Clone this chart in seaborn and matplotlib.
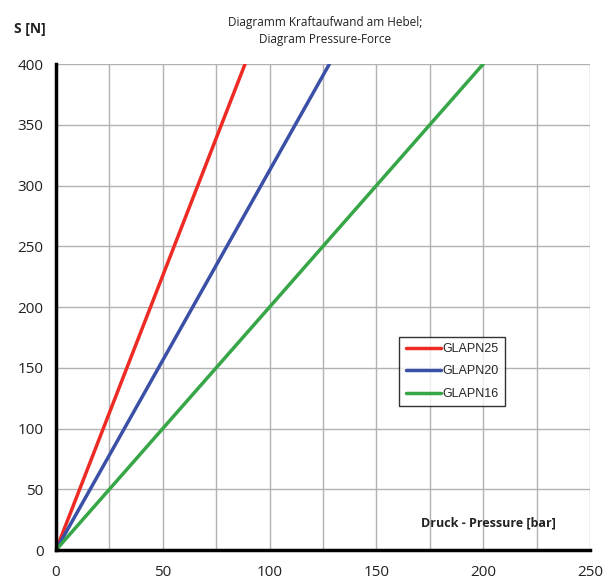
import numpy as np
import pandas as pd
import matplotlib
matplotlib.use("Agg")
import matplotlib.pyplot as plt
import seaborn as sns

# Data
series = ["GLAPN25", "GLAPN20", "GLAPN16"]
pressure_25 = [0, 88.5]
force_25 = [0, 400]
pressure_20 = [0, 128]
force_20 = [0, 400]
pressure_16 = [0, 200]
force_16 = [0, 400]
colors = ["#ee2a24", "#3a4fa6", "#36a647"]
x_ticks = [0, 50, 100, 150, 200, 250]
y_ticks = [0, 50, 100, 150, 200, 250, 300, 350, 400]

df = pd.concat([
    pd.DataFrame({"p": pressure_25, "s": force_25, "series": series[0]}),
    pd.DataFrame({"p": pressure_20, "s": force_20, "series": series[1]}),
    pd.DataFrame({"p": pressure_16, "s": force_16, "series": series[2]}),
])

sns.set_style("white")
plt.rcParams['font.family'] = ['Open Sans', 'DejaVu Sans']

fig = plt.figure(figsize=(6.05, 5.83), dpi=100)
ax = fig.add_axes([0.0926, 0.0566, 0.8826, 0.8336])

sns.lineplot(data=df, x="p", y="s", hue="series", palette=dict(zip(series, colors)),
             linewidth=2.5, ax=ax, zorder=3)

ax.set_xlim(0, 250)
ax.set_ylim(0, 400)
ax.set_xticks(np.arange(0, 251, 25))
ax.set_xticklabels([str(v) if v in x_ticks else "" for v in np.arange(0, 251, 25)])
ax.set_yticks(y_ticks)
ax.grid(True, color="#b2b2b2", linewidth=1)
ax.set_axisbelow(True)
for s in ["top", "right"]:
    ax.spines[s].set_visible(False)
for s in ["left", "bottom"]:
    ax.spines[s].set_color("black")
    ax.spines[s].set_linewidth(2.5)
    ax.spines[s].set_zorder(5)
ax.tick_params(axis="both", direction="out", length=5, width=2, color="black",
               labelsize=11, pad=4, labelcolor="#222222")
ax.tick_params(axis="x", pad=6)
ax.set_xlabel("")
ax.set_ylabel("")

leg = ax.legend(loc="upper left", bbox_to_anchor=(0.643, 0.439), frameon=True,
                fancybox=False, edgecolor="black",
                prop={"family": "Liberation Sans", "size": 9},
                handlelength=2.8, handletextpad=0.15, labelspacing=0.84,
                borderpad=0.5, borderaxespad=0)
leg.get_frame().set_linewidth(1)

fig.text(0.05, 0.95, "S [N]", fontsize=10, fontweight="bold", ha="center", va="center",
         color="#222222")
fig.text(0.537, 0.962, "Diagramm Kraftaufwand am Hebel;", fontsize=8.5, ha="center",
         va="center", color="#222222")
fig.text(0.537, 0.932, "Diagram Pressure-Force", fontsize=8.5, ha="center",
         va="center", color="#222222")
ax.text(0.81, 0.056, "Druck - Pressure [bar]", transform=ax.transAxes, fontsize=9,
        fontweight="bold", ha="center", va="center", color="#222222")

fig.savefig("out.png", dpi=100, facecolor="white")
